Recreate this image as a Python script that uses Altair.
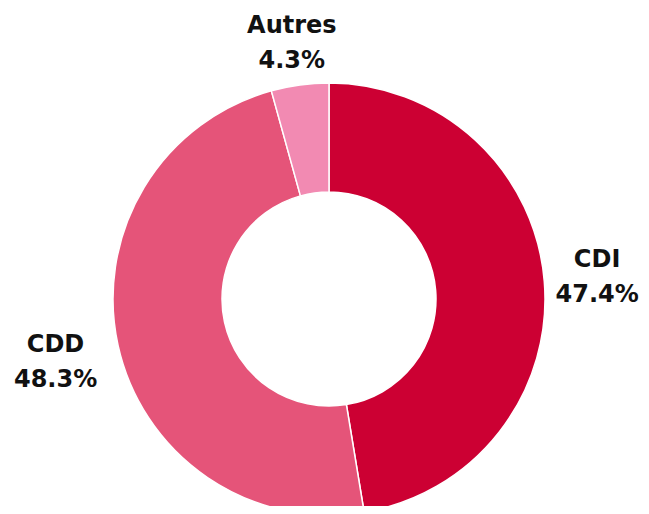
import altair as alt
import pandas as pd

categories = ["CDI", "CDD", "Autres"]
values = [47.4, 48.3, 4.3]
colors = ["#CC0033", "#E55479", "#F28AB2"]

df = pd.DataFrame({
    "cat": categories,
    "value": values,
    "idx": list(range(len(categories))),
})
df["pct"] = [f"{v:.1f}%" for v in values]

CX, CY = 321, 291
LINE = 35
theta_scale = alt.Scale(domain=[0, 100], range=[0, 6.283185307179586])

base = alt.Chart(df).transform_window(
    cum="sum(value)", sort=[alt.SortField("idx")]
).transform_calculate(
    start="datum.cum - datum.value",
    mid="datum.cum - datum.value / 2",
)

arcs = base.mark_arc(
    innerRadius=107, outerRadius=216, stroke="white", strokeWidth=1.5, x=CX, y=CY
).encode(
    theta=alt.Theta("start:Q", scale=theta_scale),
    theta2="cum:Q",
    color=alt.Color("cat:N", scale=alt.Scale(domain=categories, range=colors), legend=None),
)

def label_layers(cat, radius, dy=0):
    layers = []
    for field, off in (("cat", 0), ("pct", LINE)):
        layers.append(
            base.transform_filter(alt.datum.cat == cat).mark_text(
                x=CX, y=CY, radius=radius, align="center", baseline="middle", dy=dy + off,
                font="DejaVu Sans", fontWeight="bold", fontSize=24, color="#111111",
            ).encode(
                theta=alt.Theta("mid:Q", scale=theta_scale),
                text=f"{field}:N",
            )
        )
    return layers

chart = alt.layer(
    arcs,
    *label_layers("CDI", 269, dy=-17),
    *label_layers("CDD", 280, dy=-14),
    *label_layers("Autres", 276, dy=0),
).properties(width=633, height=498, autosize="none", padding=0).configure_view(stroke=None)

chart.save("out.html", embed_options={"renderer": "svg", "actions": False})
